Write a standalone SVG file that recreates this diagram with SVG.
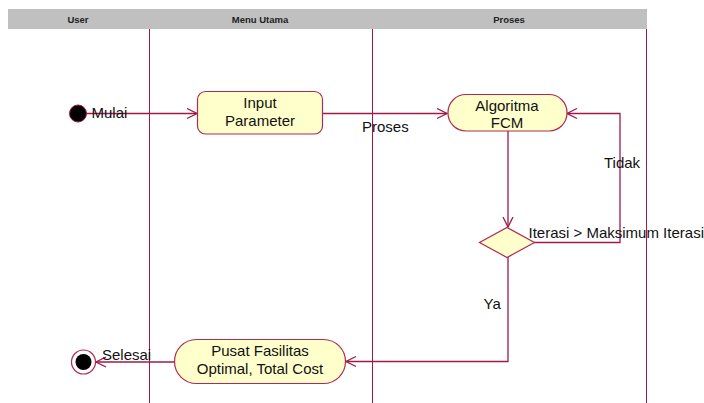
<svg xmlns="http://www.w3.org/2000/svg" width="704" height="403" viewBox="0 0 704 403">
  <style>
    .lane { stroke: #9e1a4a; stroke-width: 1; }
    .hdr { font-family: "Liberation Sans", Arial, sans-serif; font-size: 9.5px; font-weight: bold; fill: #222; text-anchor: middle; }
    .node { fill: #ffffcc; stroke: #b02a55; stroke-width: 1.2; }
    .lbl { font-family: "Liberation Sans", Arial, sans-serif; font-size: 15px; fill: #111; }
    .mid { text-anchor: middle; }
    .edge { fill: none; stroke: #9e1a4a; stroke-width: 1.3; }
  </style>
  <defs>
    <marker id="open" markerUnits="userSpaceOnUse" markerWidth="14" markerHeight="14" refX="11" refY="6" orient="auto">
      <path d="M1,1 L11,6 L1,11" fill="none" stroke="#9e1a4a" stroke-width="1.3"/>
    </marker>
  </defs>
  <rect width="704" height="403" fill="#ffffff"/>

  <!-- swimlane header and dividers -->
  <g id="lanes">
    <rect x="8" y="9" width="639" height="20" fill="#c0c0c0"/>
    <text class="hdr" x="78" y="22.5">User</text>
    <text class="hdr" x="260" y="22.5">Menu Utama</text>
    <text class="hdr" x="509" y="22.5">Proses</text>
    <line class="lane" x1="149.5" y1="29" x2="149.5" y2="403"/>
    <line class="lane" x1="372.5" y1="29" x2="372.5" y2="403"/>
    <line class="lane" x1="646.5" y1="29" x2="646.5" y2="403" stroke="#c8507a"/>
  </g>

  <!-- connectors -->
  <g id="connectors">
    <line class="edge" x1="80" y1="113.5" x2="197" y2="113.5" marker-end="url(#open)"/>
    <line class="edge" x1="323" y1="113.5" x2="447" y2="113.5" marker-end="url(#open)"/>
    <line class="edge" x1="508" y1="131" x2="508" y2="227" marker-end="url(#open)"/>
    <polyline class="edge" points="534,242.5 620,242.5 620,113.5 567,113.5" marker-end="url(#open)"/>
    <polyline class="edge" points="508,257 508,361.5 346,361.5" marker-end="url(#open)"/>
    <line class="edge" x1="174" y1="362" x2="96" y2="362" marker-end="url(#open)"/>
    <text class="lbl" x="362" y="132">Proses</text>
    <text class="lbl" x="604" y="168">Tidak</text>
    <text class="lbl" x="528.5" y="237.5">Iterasi &gt; Maksimum Iterasi</text>
    <text class="lbl" x="483.5" y="309">Ya</text>
  </g>

  <g id="start">
    <circle cx="78" cy="113.5" r="8.5" fill="#000" stroke="#9e1a4a" stroke-width="1"/>
    <text class="lbl" x="91.5" y="118">Mulai</text>
  </g>

  <g id="input-parameter">
    <rect class="node" x="197.5" y="91.5" width="125" height="42.5" rx="8"/>
    <text class="lbl mid" x="260" y="108">Input</text>
    <text class="lbl mid" x="260" y="126">Parameter</text>
  </g>

  <g id="algoritma-fcm">
    <rect class="node" x="448" y="94.5" width="119" height="36.5" rx="18"/>
    <text class="lbl mid" x="507" y="110.5">Algoritma</text>
    <text class="lbl mid" x="507" y="128">FCM</text>
  </g>

  <g id="decision">
    <polygon class="node" points="507,227.5 534.5,242.5 507,257.5 479.5,242.5"/>
  </g>

  <g id="pusat-fasilitas">
    <rect class="node" x="174.5" y="339.5" width="171" height="44" rx="22"/>
    <text class="lbl mid" x="260" y="356">Pusat Fasilitas</text>
    <text class="lbl mid" x="260" y="374">Optimal, Total Cost</text>
  </g>

  <g id="end">
    <circle cx="83.5" cy="362" r="12" fill="#fff" stroke="#b02a55" stroke-width="1.2"/>
    <circle cx="83.5" cy="362" r="8" fill="#000"/>
    <text class="lbl" x="102" y="360">Selesai</text>
  </g>
</svg>
